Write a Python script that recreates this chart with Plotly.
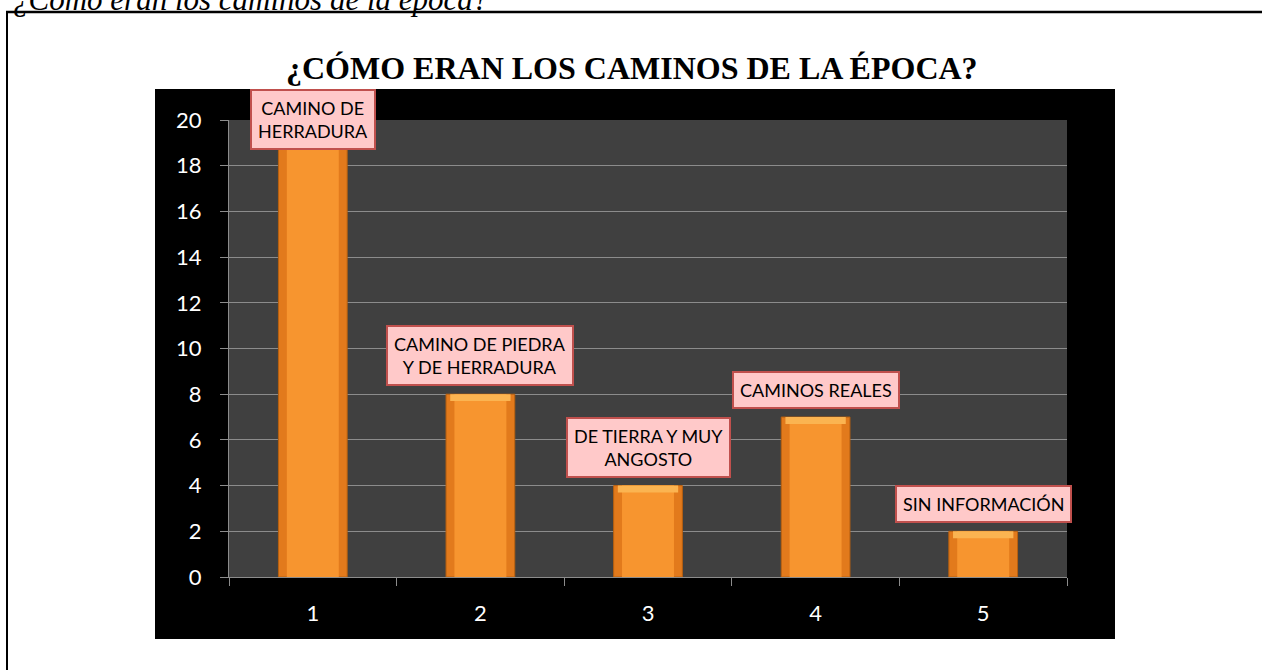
import plotly.graph_objects as go

# ---- data ----
categories = ["1", "2", "3", "4", "5"]
values = [19, 8, 4, 7, 2]
labels = ["CAMINO DE<br>HERRADURA", "CAMINO DE PIEDRA<br>Y DE HERRADURA",
          "DE TIERRA Y MUY<br>ANGOSTO", "CAMINOS REALES", "SIN INFORMACIÓN"]
y_ticks = list(range(0, 21, 2))
chart_title = "¿CÓMO ERAN LOS CAMINOS DE LA ÉPOCA?"
doc_caption = "¿Cómo eran los caminos de la época?"

W, H = 1262, 670
ML, MR, MT, MB = 229, 195, 120, 93
PW, PH = W - ML - MR, H - MT - MB


def px_x(px):
    return (px - ML) / PW


def px_y(py):
    return (H - MB - py) / PH


fig = go.Figure()

# bars (layered to imitate the glossy gradient)
fig.add_trace(go.Bar(x=categories, y=values, width=0.41,
                     marker=dict(color="#e27a1c", line=dict(color="#b8600f", width=1)),
                     hoverinfo="skip", showlegend=False))
fig.add_trace(go.Bar(x=categories, y=values, width=0.31,
                     marker=dict(color="#f7952f", line=dict(width=0)),
                     hoverinfo="skip", showlegend=False))
cap = 0.3
fig.add_trace(go.Bar(x=categories, y=[cap] * len(values), base=[v - cap for v in values],
                     width=0.36, marker=dict(color="#fbb451", line=dict(width=0)),
                     hoverinfo="skip", showlegend=False))

# background panels
shapes = [
    dict(type="rect", xref="paper", yref="paper", x0=px_x(155), x1=px_x(1115),
         y0=px_y(639), y1=px_y(89), fillcolor="black", line=dict(width=0), layer="below"),
    dict(type="rect", xref="paper", yref="paper", x0=0, x1=1, y0=0, y1=1,
         fillcolor="#404040", line=dict(width=0), layer="below"),
    # document frame
    dict(type="line", xref="paper", yref="paper", x0=px_x(7), x1=px_x(7),
         y0=px_y(12), y1=px_y(680), line=dict(color="black", width=2)),
    dict(type="line", xref="paper", yref="paper", x0=px_x(6), x1=px_x(1270),
         y0=px_y(12), y1=px_y(12), line=dict(color="black", width=2.5)),
]

annotations = [
    dict(text=doc_caption, xref="paper", yref="paper", x=px_x(11), y=px_y(19),
         xanchor="left", yanchor="bottom", showarrow=False,
         font=dict(family="Liberation Serif", size=31, color="black", style="italic")),
    dict(text="<b>" + chart_title + "</b>", xref="paper", yref="paper", x=px_x(632), y=px_y(88),
         xanchor="center", yanchor="bottom", showarrow=False,
         font=dict(family="Liberation Serif", size=32, color="black")),
]

chart_top = px_y(89)
for i, (v, t) in enumerate(zip(values, labels)):
    common = dict(text=t, showarrow=False, xref="x", x=i, xanchor="center",
                  bgcolor="#ffc9c9", bordercolor="#c0504d", borderwidth=2, borderpad=6,
                  font=dict(family="Lato", size=18, color="black"), align="center")
    if v >= 18:
        annotations.append(dict(common, yref="paper", y=chart_top, yanchor="top"))
    else:
        annotations.append(dict(common, yref="y", y=v, yanchor="bottom", yshift=8))

fig.update_layout(
    width=W, height=H,
    margin=dict(l=ML, r=MR, t=MT, b=MB),
    paper_bgcolor="white", plot_bgcolor="rgba(0,0,0,0)",
    barmode="overlay", showlegend=False,
    shapes=shapes, annotations=annotations,
    xaxis=dict(type="category", range=[-0.5, len(categories) - 0.5],
               tickson="boundaries", ticks="outside", ticklen=8,
               tickcolor="#8c8c8c", showline=True, linecolor="#8c8c8c", linewidth=1,
               showgrid=False, tickfont=dict(family="Lato", size=22, color="white"),
               ticklabelstandoff=17),
    yaxis=dict(range=[0, 20], tickvals=y_ticks, ticks="outside", ticklen=8,
               tickcolor="#8c8c8c", showline=True, linecolor="#8c8c8c", linewidth=1,
               gridcolor="#8c8c8c", gridwidth=1, zeroline=False,
               tickfont=dict(family="Lato", size=22, color="white"),
               ticklabelstandoff=14),
)

fig.write_html("out.html", config={"displayModeBar": False},
               post_script="document.body.style.margin='0';")
